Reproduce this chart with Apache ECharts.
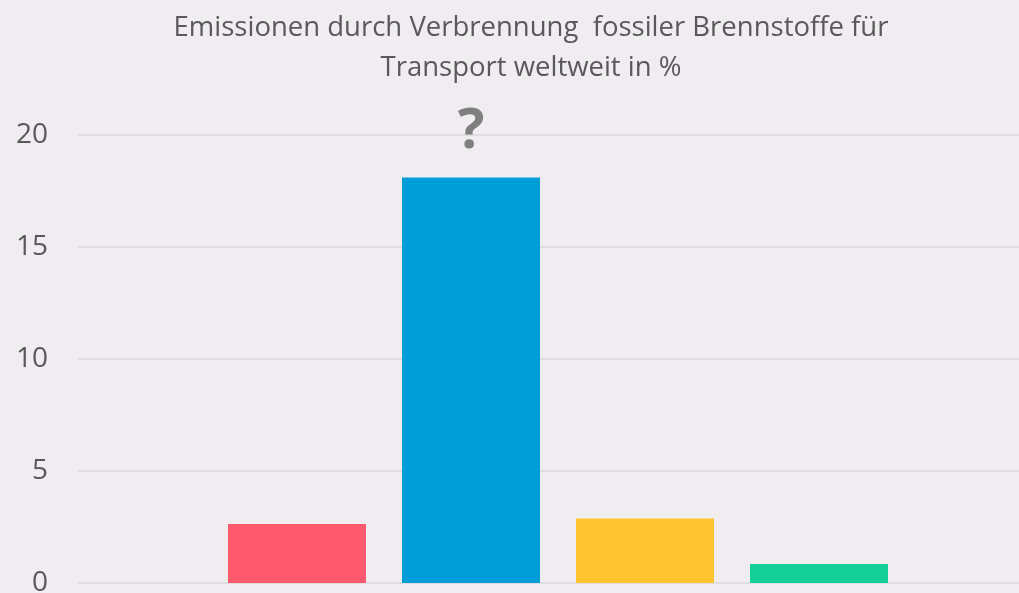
<!DOCTYPE html>
<html>
<head>
<meta charset="utf-8">
<script src="https://cdn.jsdelivr.net/npm/echarts@6/dist/echarts.min.js"></script>
<style>
  html, body { margin: 0; padding: 0; background: #efedf0; }
  #chart { width: 1019px; height: 593px; }
</style>
</head>
<body>
<div id="chart"></div>
<script>
// Daten
const categories = ['Kategorie 1', 'Kategorie 2', 'Kategorie 3', 'Kategorie 4'];
const values = [2.63, 18.1, 2.88, 0.85];
const barLabels = ['', '?', '', ''];
const yTicks = [0, 5, 10, 15, 20];

const barColors = ['#ff5a6d', '#009dd9', '#fec530', '#12cf98'];
const textColor = '#595959';

const chart = echarts.init(document.getElementById('chart'));

const option = {
  backgroundColor: '#efedf0',
  animation: false,
  title: {
    text: 'Emissionen durch Verbrennung  fossiler Brennstoffe für\nTransport weltweit in %',
    left: 526,
    textAlign: 'center',
    top: 3,
    textStyle: {
      color: textColor,
      fontFamily: 'Open Sans',
      fontWeight: 'normal',
      fontSize: 27.5,
      lineHeight: 40
    }
  },
  grid: [
    // nur für Hilfslinien und Achsenbeschriftung
    {left: 78, right: 0, top: 135, bottom: 10, outerBoundsMode: 'none'},
    // Balken
    {left: 210, right: 113, top: 135, bottom: 10, outerBoundsMode: 'none'}
  ],
  xAxis: [
    {gridIndex: 0, type: 'value', show: false, min: 0, max: 1},
    {
      gridIndex: 1,
      type: 'category',
      data: categories,
      axisLine: {show: false},
      axisTick: {show: false},
      axisLabel: {show: false}
    }
  ],
  yAxis: [
    {
      gridIndex: 0,
      type: 'value',
      min: yTicks[0],
      max: yTicks[yTicks.length - 1],
      interval: yTicks[1] - yTicks[0],
      axisLine: {show: false},
      axisTick: {show: false},
      axisLabel: {
        color: textColor,
        fontFamily: 'Open Sans',
        fontSize: 28,
        margin: 30
      },
      splitLine: {lineStyle: {color: '#d9d8db', width: 1.5}}
    },
    {
      gridIndex: 1,
      type: 'value',
      min: yTicks[0],
      max: yTicks[yTicks.length - 1],
      show: false,
      splitLine: {show: false}
    }
  ],
  series: [
    {
      type: 'bar',
      xAxisIndex: 1,
      yAxisIndex: 1,
      barWidth: 138,
      data: values.map((v, i) => ({
        value: v,
        itemStyle: {color: barColors[i]},
        label: {
          show: barLabels[i] !== '',
          formatter: barLabels[i],
          position: 'top',
          distance: 18,
          color: '#7f7f7f',
          fontFamily: 'Open Sans',
          fontWeight: 'bold',
          fontSize: 56
        }
      }))
    }
  ]
};

chart.setOption(option);
</script>
</body>
</html>
